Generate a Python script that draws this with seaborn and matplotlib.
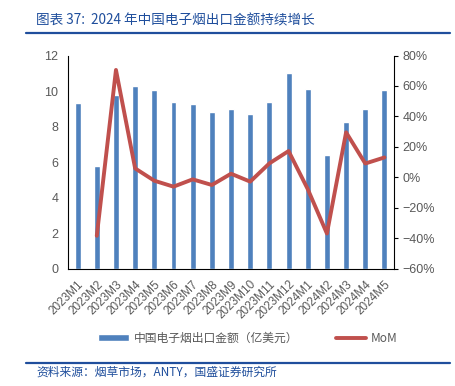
import numpy as np
import matplotlib
matplotlib.use('Agg')
import matplotlib.pyplot as plt
import seaborn as sns

# dados
meses = ['2023M1', '2023M2', '2023M3', '2023M4', '2023M5', '2023M6', '2023M7',
         '2023M8', '2023M9', '2023M10', '2023M11', '2023M12', '2024M1',
         '2024M2', '2024M3', '2024M4', '2024M5']
exportacao = [9.35, 5.75, 9.8, 10.3, 10.07, 9.4, 9.24, 8.8, 8.96, 8.68, 9.4,
              11.0, 10.14, 6.37, 8.23, 8.96, 10.07]
# MoM (%) a partir de 2023M2
mom = [-38.5, 70.5, 5.8, -2.3, -6.2, -1.4, -5.1, 2.3, -2.9, 9.1, 17.2,
       -7.8, -37.0, 29.5, 9.0, 13.0]

sns.set_style('white')
plt.rcParams['font.family'] = ['Noto Sans CJK SC', 'DejaVu Sans']
plt.rcParams['axes.unicode_minus'] = True

azul = '#4F81BD'
vermelho = '#C0504D'
cinza = '#595959'
azul_titulo = '#1F4E9C'

fig = plt.figure(figsize=(4.55, 3.86), dpi=100)
ax = fig.add_axes([0.1495, 0.3044, 0.7165, 0.5518])

sns.barplot(x=meses, y=exportacao, color=azul, width=0.31, saturation=1,
            ax=ax, label='中国电子烟出口金额（亿美元）')
if ax.get_legend() is not None:
    ax.get_legend().remove()
ax.set_xlim(-0.5, len(meses) - 0.5)
ax.set_ylim(0, 12)
ax.set_yticks(range(0, 13, 2))
ax.set_xlabel('')
ax.set_ylabel('')
ax.tick_params(axis='y', length=0, labelsize=9, labelcolor=cinza, pad=7)
ax.tick_params(axis='x', length=0, labelsize=8.5, labelcolor=cinza, pad=7)
for lab in ax.get_xticklabels() + ax.get_yticklabels():
    lab.set_family(['Liberation Sans', 'DejaVu Sans'])
for lab in ax.get_xticklabels():
    lab.set_rotation(45)
    lab.set_ha('right')
    lab.set_rotation_mode('anchor')
for s in ['top', 'right']:
    ax.spines[s].set_visible(False)
ax.spines['left'].set_color('black')
ax.spines['bottom'].set_color('black')

ax2 = ax.twinx()
sns.lineplot(x=np.arange(1, len(meses)), y=mom, color=vermelho, linewidth=2.8,
             ax=ax2, label='MoM')
ax2.set_ylim(-60, 80)
ax2.set_yticks(range(-60, 81, 20))
ax2.set_yticklabels([f'{v}%'.replace('-', '\u2212') for v in range(-60, 81, 20)],
                    family=['Liberation Sans', 'DejaVu Sans'])
ax2.set_xlim(-0.5, len(meses) - 0.5)
ax2.tick_params(axis='y', length=3, direction='out', labelsize=9,
                labelcolor=cinza, color='black', pad=3)
for s in ['top', 'left', 'bottom']:
    ax2.spines[s].set_visible(False)
ax2.spines['right'].set_color('black')
ax2.get_legend().remove()

h1, l1 = ax.get_legend_handles_labels()
h2, l2 = ax2.get_legend_handles_labels()
leg = fig.legend(h1 + h2, l1 + l2, loc='center', bbox_to_anchor=(0.545, 0.124),
                 ncol=2, frameon=False, fontsize=8.5, handlelength=2.6,
                 handleheight=0.6, columnspacing=3.2, handletextpad=0.4)
for t in leg.get_texts():
    t.set_color(cinza)

# título e fonte
fig.text(0.079, 0.947, '图表 37:  2024 年中国电子烟出口金额持续增长', fontsize=9.8,
         color=azul_titulo, style='italic', va='center', ha='left')
fig.add_artist(plt.Line2D([0.057, 0.99], [0.914, 0.914], color=azul_titulo,
                          linewidth=1.6, transform=fig.transFigure))
fig.add_artist(plt.Line2D([0.057, 0.99], [0.06, 0.06], color=azul_titulo,
                          linewidth=1.6, transform=fig.transFigure))
fig.text(0.079, 0.037, '资料来源：烟草市场，ANTY，国盛证券研究所', fontsize=8.5,
         color=azul_titulo, style='italic', va='center', ha='left')

fig.savefig('out.png', dpi=100)
